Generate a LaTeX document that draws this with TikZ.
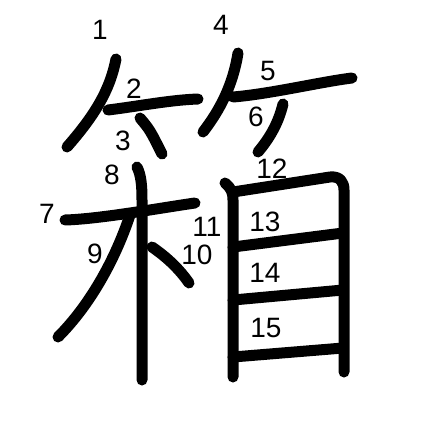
\documentclass[tikz,border=0pt]{standalone}
\usepackage{fontspec}
\setmainfont{Liberation Sans}
\begin{document}
\begin{tikzpicture}[x=1pt,y=-1pt,
  stroke/.style={line width=11pt,line cap=round,line join=round},
  num/.style={font=\fontsize{28}{30}\selectfont,inner sep=0pt}]
\useasboundingbox (0,0) rectangle (447,447);
% strokes
\draw[stroke] (116,59) .. controls (110,90) and (95,115) .. (67,147);
\draw[stroke] (108,110) .. controls (140,106) and (170,100) .. (198,99);
\draw[stroke] (140,118) .. controls (150,130) .. (162,154);
\draw[stroke] (238,53) .. controls (233,85) and (220,110) .. (203,132);
\draw[stroke] (233,97) .. controls (270,94) and (320,82) .. (352,78);
\draw[stroke] (283,104) .. controls (278,125) and (268,140) .. (258,152);
\draw[stroke] (65,220) .. controls (100,219) and (160,208) .. (195,203);
\draw[stroke] (137,167) .. controls (141,175) and (142,185) .. (142,200) -- (142,380);
\draw[stroke] (130,215) .. controls (115,260) and (90,305) .. (58,337);
\draw[stroke] (152,247) .. controls (168,258) and (180,270) .. (189,283);
\draw[stroke] (225,183) .. controls (231,188) and (233,192) .. (233,200) -- (233,377);
\draw[stroke] (233,192) -- (330,177) .. controls (340,176) and (344,182) .. (344,190) -- (344,372);
\draw[stroke] (233,247) -- (343,233);
\draw[stroke] (233,300) -- (343,290);
\draw[stroke] (233,357) -- (343,348);
% numbers
\node[num] (n1) at (100,30) {1};
\node[num] (n2) at (134,89) {2};
\node[num] (n3) at (123,141) {3};
\node[num] (n4) at (221,25) {4};
\node[num] (n5) at (268,71) {5};
\node[num] (n6) at (256,117) {6};
\node[num] (n7) at (47,214) {7};
\node[num] (n8) at (112,175) {8};
\node[num] (n9) at (95,254) {9};
\node[num] (n10) at (197,255) {10};
\node[num] (n11) at (207,227) {11};
\node[num] (n12) at (272,169) {12};
\node[num] (n13) at (265,222) {13};
\node[num] (n14) at (265,273) {14};
\node[num] (n15) at (266,328) {15};
\end{tikzpicture}
\end{document}
